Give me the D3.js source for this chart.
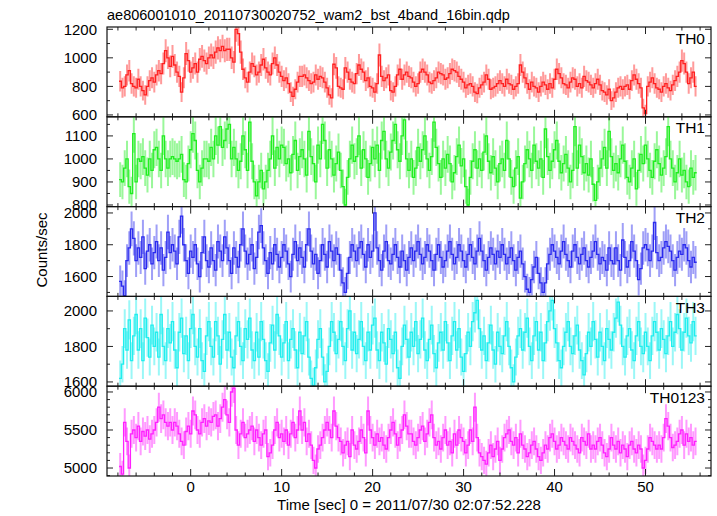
<!DOCTYPE html>
<html><head><meta charset="utf-8">
<script src="https://cdn.jsdelivr.net/npm/d3@7"></script>
<style>body{margin:0;background:#fff}svg{display:block}text{font-family:"Liberation Sans",Arial,Helvetica,sans-serif}</style>
</head><body><svg id="c" width="717" height="516"></svg>
<script>
const titleText = "ae806001010_20110730020752_wam2_bst_4band_16bin.qdp";
const xLabel = "Time [sec] 0 = 2011/07/30 02:07:52.228";
const yLabel = "Counts/sec";
const tStart = -7.875;   // left edge of first bin (s)
const binSec = 0.25;
const errDt = 0.16;      // effective exposure per bin used for the error bars
const xTicks = [0, 10, 20, 30, 40, 50];
const panelNames = ["TH0", "TH1", "TH2", "TH3", "TH0123"];
const panelColors = ["#ff2020", "#20ee20", "#2a2aee", "#20eeee", "#ff20ff"];
const yDomains = [[587, 1216], [793, 1183], [1475, 2040], [1576, 2082], [4895, 6076]];
const yMajor = [[600, 800, 1000, 1200], [800, 900, 1000, 1100], [1600, 1800, 2000], [1600, 1800, 2000], [5000, 5500, 6000]];
const yMinorStep = [100, 50, 100, 100, 100];

const th0 = [
836,790,800,880,910,820,800,790, 850,800,770,740,800,840,860,830,
880,910,890,960,1050,1000,940,1010, 950,900,870,760,860,1030,980,900,
930,960,900,990,1010,980,960,1000, 1020,1000,1040,1070,1050,1080,1050,1060,
1060,1000,970,1200,1170,1040,920,860, 830,900,960,940,880,900,950,990,
930,900,880,960,1000,950,900,870, 840,860,820,760,730,780,830,870,
870,880,860,840,820,830,880,850, 870,860,830,790,740,720,955,930,
800,790,780,930,900,850,830,820, 890,950,920,900,840,860,800,790,
760,820,1020,870,840,860,880,770, 760,800,880,920,850,880,900,870,
860,830,800,820,900,920,900,880, 830,820,840,860,900,890,880,850,
860,890,920,910,900,870,850,830, 790,810,820,800,760,750,790,810,
830,880,850,780,790,800,820,840, 820,800,850,820,810,780,800,820,
950,900,860,820,780,830,800,790, 760,800,830,810,780,820,790,850,
920,890,860,820,810,790,830,860, 850,800,820,790,870,840,830,810,
790,820,850,810,770,760,740,780, 700,720,760,790,800,780,800,810,
780,840,880,850,820,790,650,610, 800,830,860,820,790,780,760,800,
820,790,770,810,840,870,900,980, 960,900,820,860,900,800];

const th1 = [
910,900,960,1000,880,850,1110,900, 1000,990,1010,960,930,1000,950,1040,
1050,1000,950,1100,1000,960,1000,1010, 1000,990,1000,1020,910,900,980,1040,
1110,1080,950,900,960,1000,1000,990, 1050,1000,1100,1060,1140,1050,1080,1130,
1150,1000,1050,1000,950,990,1100,1040, 950,1160,990,900,840,900,950,870,
900,950,1000,1100,960,1050,1000,1060, 1050,980,1000,940,1020,1080,950,1010,
1040,1000,930,1120,1010,980,900,1060, 1000,1150,1080,960,1040,1000,930,980,
1030,950,880,800,920,1000,1060,990, 1010,1100,960,1040,1000,920,980,1050,
1000,1060,950,1080,1120,1000,960,1030, 1080,1150,1040,990,1100,1170,1000,950,
1000,920,960,1050,990,1040,1100,1000, 950,1010,1160,1050,980,920,1000,960,
1020,980,900,940,1010,1060,970,1000, 880,800,920,990,1040,960,1000,950,
1030,1100,990,940,1010,960,900,980, 1000,950,1080,1000,920,880,960,1010,
830,900,980,1040,1000,950,1060,990, 960,1000,920,1130,1010,950,990,1040,
1080,990,940,980,1020,960,900,950, 1140,960,1060,1010,940,980,930,1000,
890,820,900,960,1000,1050,960,1120, 1010,950,980,940,1000,1060,990,920,
900,960,1000,870,950,1020,980,1060, 1000,950,920,990,1040,980,930,960,
1010,1140,1000,960,900,940,1000,930, 950,900,880,960,920,940];

const th2 = [
1570,1540,1480,1700,1780,1900,1840,1700, 1780,1720,1850,1650,1760,1800,1680,1750,
1820,1700,1780,1640,1720,1880,1750,1800, 1760,1680,1850,1980,1800,1700,1620,1760,
1720,1800,1680,1600,1750,1850,1700,1660, 1780,1700,1640,1820,1760,1700,1850,1780,
1700,1620,1780,1720,1660,1800,1900,1760, 1680,1740,1800,1650,1720,1880,1920,1780,
1700,1620,1750,1680,1800,1740,1660,1720, 1800,1760,1680,1600,1740,1820,1700,1780,
1720,1660,1800,1900,1760,1680,1740,1620, 1700,1800,1740,1660,1820,1760,1700,1780,
1740,1640,1560,1500,1620,1720,1800,1760, 1700,1780,1820,1740,1660,1800,1720,1760,
2000,1780,1700,1640,1760,1820,1700,1680, 1740,1800,1720,1660,1760,1700,1640,1720,
1780,1700,1760,1820,1740,1680,1720,1800, 1760,1700,1640,1740,1800,1720,1660,1700,
1760,1820,1740,1680,1720,1800,1760,1700, 1660,1740,1800,1720,1680,1760,1840,1760,
1700,1640,1720,1780,1740,1680,1760,1720, 1800,1740,1680,1720,1780,1700,1640,1720,
1760,1680,1600,1520,1500,1580,1660,1720, 1620,1560,1500,1560,1680,1740,1800,1760,
1720,1680,1760,1820,1740,1700,1660,1760, 1800,1720,1680,1740,1780,1700,1660,1720,
1760,1820,1740,1680,1720,1700,1640,1780, 1700,1680,1780,1700,1640,1830,1720,1660,
1700,1820,1760,1700,1580,1650,1780,1800, 1770,1700,1760,1940,1750,1700,1720,1780,
1820,1790,1760,1700,1640,1720,1760,1740, 1800,1780,1700,1660,1720,1690];

const th3 = [
1620,1700,1900,1780,1950,1720,1860,1980, 1780,1900,1720,1960,1850,1740,1920,1800,
1880,1740,1980,1800,1720,1900,1820,1940, 1780,1680,1880,1960,1760,1860,1720,1900,
1980,1800,1740,1900,1720,1660,1860,1940, 1800,1740,1940,1860,1700,1840,1980,1780,
1880,1740,1680,1860,1940,1800,1720,1900, 1840,1960,1780,1720,1880,1740,1940,1840,
1720,1660,1820,1920,1780,1980,1860,1740, 1820,1940,1720,1840,1900,1780,1680,1880,
1760,1860,1940,1740,1620,1580,1680,1840, 1900,1740,1600,1660,1800,1940,1880,1760,
1840,1940,1800,1720,1900,2000,1780,1880, 1760,1840,1940,1800,1720,1880,1780,1920,
1960,1780,1720,1880,1820,1700,1900,1840, 1760,1880,1680,1620,1800,1920,1840,1740,
1880,1800,1940,1760,1840,1960,1780,1720, 1840,1920,1760,1680,1820,1880,1780,1940,
1820,1720,1860,1940,1780,1900,1740,1660, 1760,1880,1800,1940,1990,2060,1900,1780,
1860,1720,1820,1920,1780,1700,1880,1800, 1760,1860,1940,1800,1680,1600,1740,1860,
1900,1780,1880,1960,1800,1720,1860,1940, 1780,1880,1720,1820,1940,2000,2060,1900,
1820,1720,1680,1800,1880,1940,1800,1760, 1860,1920,1780,1720,1640,1760,1880,1800,
1940,1840,1740,1880,1800,1720,1900,1840, 1780,1880,1960,2050,1920,1800,1740,1860,
1900,1780,1720,1860,1940,1800,1760,1880, 1800,1720,1860,1940,1880,1780,1900,1840,
1760,1860,1940,1800,1880,1980,1900,1780, 1880,1960,1860,1820,1940,1860];

const th0123 = [
5020,4920,5600,5350,5000,5450,5500,5400, 5550,5350,5480,5420,5500,5380,5450,5500,
5600,5800,5650,5700,5600,5550,5600,5500, 5600,5550,5450,5350,5300,5480,5550,5450,
5750,5700,5500,5450,5600,5650,5550,5620, 5600,5680,5700,5550,5650,5800,5900,5700,
5600,6000,6050,5500,5300,5450,5600,5400, 5450,5500,5550,5350,5500,5400,5300,5450,
5500,5150,5200,5300,5500,5600,5400,5450, 5350,5500,5300,5450,5600,5400,5500,5750,
5500,5600,5350,5450,5300,5100,5000,5250, 5300,5400,5500,5600,5500,5400,5750,5550,
5400,5350,5200,5300,5350,5150,5500,5300, 5250,5350,5500,5400,5200,5750,5500,5400,
5300,5450,5350,5400,5300,5250,5400,5500, 5600,5450,5300,5400,5500,5700,5550,5450,
5450,5350,5300,5400,5500,5550,5350,5450, 5600,5700,5400,5300,5350,5250,5400,5500,
5300,5350,5200,5450,5300,5500,5400,5350, 5200,5300,5500,5350,5800,5400,5200,5150,
5100,5050,5200,5300,5150,5250,5350,5100, 5250,5400,5450,5500,5350,5300,5400,5200,
5450,5300,5250,5150,5200,5300,5350,5250, 5150,5100,5200,5300,5250,5400,5450,5350,
5250,5300,5400,5350,5300,5250,5400,5350, 5300,5250,5200,5400,5350,5300,5450,5250,
5300,5250,5350,5400,5300,5200,5150,5250, 5400,5300,5250,5350,5200,5300,5250,5150,
5300,5350,5250,5200,5300,5250,5000,5100, 5250,5400,5350,5300,5250,5300,5250,5400,
5650,5550,5400,5270,5300,5350,5450,5500, 5300,5450,5350,5400,5300,5350];

const series = [th0, th1, th2, th3, th0123];

const svg = d3.select("#c");
const L = 107, R = 711, T = 27, B = 476;
const nP = 5, pH = (B - T) / nP;
const x = d3.scaleLinear().domain([-9.2, 57.2]).range([L, R]);

svg.append("text").attr("x", L).attr("y", 19.5).attr("font-size", 14.5).text(titleText);

series.forEach((vals, p) => {
  const top = T + p * pH, bot = top + pH;
  const y = d3.scaleLinear().domain(yDomains[p]).range([bot, top]);
  const cid = "clip" + p;
  svg.append("clipPath").attr("id", cid).append("rect").attr("x", L).attr("y", top).attr("width", R - L).attr("height", pH);
  const dg = svg.append("g").attr("clip-path", `url(#${cid})`);
  const col = panelColors[p];
  const pts = vals.map((v, i) => ({t: tStart + binSec * (i + 0.5), v, e: Math.sqrt(v / errDt)}));
  dg.selectAll("line.ey").data(pts).join("line")
    .attr("x1", d => x(d.t)).attr("x2", d => x(d.t))
    .attr("y1", d => y(d.v - d.e)).attr("y2", d => y(d.v + d.e))
    .attr("stroke", col).attr("stroke-opacity", 0.45).attr("stroke-width", 2);
  const stepPts = [{t: tStart, v: pts[0].v}, ...pts, {t: tStart + binSec * pts.length, v: pts[pts.length - 1].v}];
  dg.append("path").datum(stepPts)
    .attr("d", d3.line().x(d => x(d.t)).y(d => y(d.v)).curve(d3.curveStep))
    .attr("fill", "none").attr("stroke", col).attr("stroke-width", 1.3);

  const [d0, d1] = yDomains[p];
  const minors = d3.range(Math.ceil(d0 / yMinorStep[p]) * yMinorStep[p], d1, yMinorStep[p]);
  const ax = svg.append("g").attr("stroke", "#222").attr("stroke-width", 1);
  minors.forEach(v => {
    const major = yMajor[p].includes(v);
    const len = major ? 6 : 3;
    ax.append("line").attr("x1", L).attr("x2", L + len).attr("y1", y(v)).attr("y2", y(v));
    ax.append("line").attr("x1", R).attr("x2", R - len).attr("y1", y(v)).attr("y2", y(v));
  });
  yMajor[p].forEach(v => {
    svg.append("text").attr("x", 97).attr("y", y(v) + 5.3).attr("text-anchor", "end")
      .attr("font-size", 15).text(v);
  });
  d3.range(-8, 57, 2).forEach(t => {
    const len = xTicks.includes(t) ? 7 : 3.5;
    ax.append("line").attr("x1", x(t)).attr("x2", x(t)).attr("y1", top).attr("y2", top + len);
    ax.append("line").attr("x1", x(t)).attr("x2", x(t)).attr("y1", bot).attr("y2", bot - len);
  });
  svg.append("rect").attr("x", L).attr("y", top).attr("width", R - L).attr("height", pH)
    .attr("fill", "none").attr("stroke", "#111").attr("stroke-width", 1.2);
  svg.append("text").attr("x", 705).attr("y", top + 16.5).attr("text-anchor", "end")
    .attr("font-size", 15.5).text(panelNames[p]);
});

xTicks.forEach(t => {
  svg.append("text").attr("x", x(t)).attr("y", 492).attr("text-anchor", "middle").attr("font-size", 15).text(t);
});
svg.append("text").attr("x", (L + R) / 2).attr("y", 510).attr("text-anchor", "middle").attr("font-size", 15).text(xLabel);
svg.append("text").attr("transform", "translate(47,250) rotate(-90)").attr("text-anchor", "middle").attr("font-size", 15).text(yLabel);
</script></body></html>
